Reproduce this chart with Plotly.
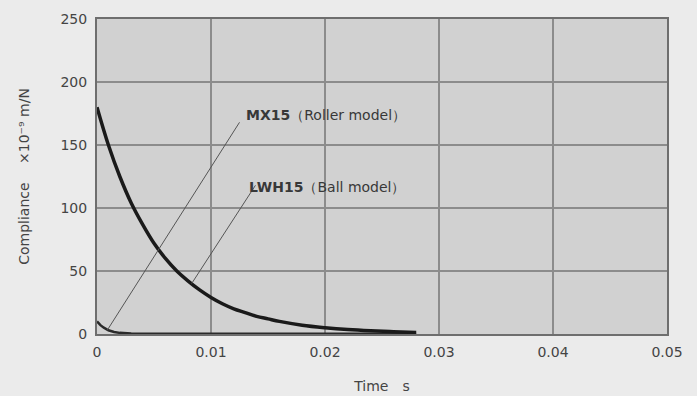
import plotly.graph_objects as go

# Data
lwh_t = [0.0, 0.001, 0.002, 0.003, 0.004, 0.005, 0.006, 0.007, 0.008, 0.009, 0.010,
         0.011, 0.012, 0.013, 0.014, 0.015, 0.016, 0.018, 0.020, 0.022, 0.024, 0.026, 0.028]
lwh_c = [180, 150, 125, 104, 87, 72, 60, 50, 42, 35, 29,
         24, 20, 17, 14, 12, 10, 7, 5, 3.5, 2.5, 1.8, 1.2]
mx_t = [0.0, 0.0003, 0.0006, 0.001, 0.0015, 0.002, 0.003, 0.005, 0.010, 0.020, 0.028]
mx_c = [10, 7, 5, 3, 1.6, 0.9, 0.4, 0.2, 0.1, 0.1, 0.1]

x_ticks = [0, 0.01, 0.02, 0.03, 0.04, 0.05]
x_labels = ["0", "0.01", "0.02", "0.03", "0.04", "0.05"]
y_ticks = [0, 50, 100, 150, 200, 250]

FONT = "DejaVu Sans, Arial"

fig = go.Figure()
fig.add_trace(go.Scatter(x=mx_t, y=mx_c, mode="lines",
                         line=dict(color="#2a2a2a", width=2.5), showlegend=False))
fig.add_trace(go.Scatter(x=lwh_t, y=lwh_c, mode="lines", line_shape="spline",
                         line=dict(color="#1a1a1a", width=3.5), showlegend=False))

# leader lines
fig.add_shape(type="line", x0=0.0125, y0=168, x1=0.0009, y1=3,
              line=dict(color="#555", width=1))
fig.add_shape(type="line", x0=0.0139, y0=118, x1=0.0083, y1=40,
              line=dict(color="#555", width=1))

fig.add_annotation(x=0.0129, y=174, xanchor="left", yanchor="middle", showarrow=False,
                   text="<b>MX15</b>（Roller model）",
                   font=dict(family=FONT, size=14, color="#383838"))
fig.add_annotation(x=0.0132, y=117, xanchor="left", yanchor="middle", showarrow=False,
                   text="<b>LWH15</b>（Ball model）",
                   font=dict(family=FONT, size=14, color="#383838"))

fig.update_layout(
    width=697, height=396,
    margin=dict(l=97, r=30, t=19, b=62),
    paper_bgcolor="#ebebeb",
    plot_bgcolor="#d1d1d1",
    font=dict(family=FONT, size=14, color="#444"),
    xaxis=dict(range=[0, 0.05], tickvals=x_ticks, ticktext=x_labels, automargin=False,
               showgrid=True, gridcolor="#8c8c8c", gridwidth=1.5,
               showline=True, linecolor="#6e6e6e", linewidth=2, mirror=True,
               zeroline=False, ticks="", ticklabelstandoff=4,
               title=dict(text="Time　s", font=dict(size=14, color="#444"), standoff=22)),
    yaxis=dict(range=[0, 250], tickvals=y_ticks, automargin=False,
               showgrid=True, gridcolor="#8c8c8c", gridwidth=1.5,
               showline=True, linecolor="#6e6e6e", linewidth=2, mirror=True,
               zeroline=False, ticks="", ticklabelstandoff=5,
               title=dict(text="Compliance　 ×10⁻⁹ m/N", font=dict(size=14, color="#444"), standoff=28)),
)

fig.write_html("out.html")
